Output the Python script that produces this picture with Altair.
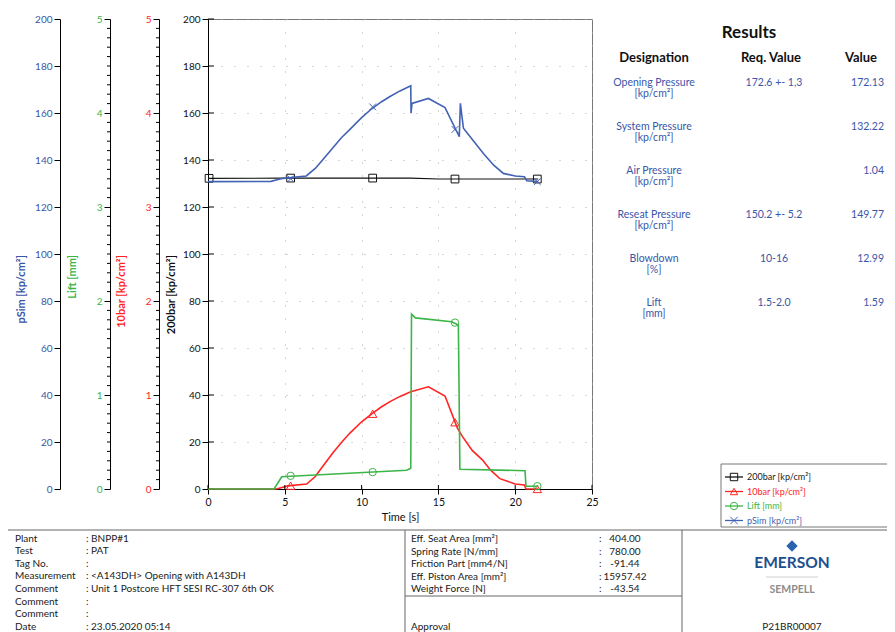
import altair as alt
import pandas as pd

FONT = "Lato"

# ---------------- series data ----------------
psim_t = [0.0, 4.1, 4.5, 4.9, 6.4, 7.0, 7.5, 8.16, 8.7, 9.24, 10.0, 10.66, 11.3, 11.85, 12.5, 13.2, 13.22,
          13.28, 14.35, 15.43, 16.36, 16.43, 16.63, 17.3, 17.93, 18.6, 19.23, 20.0, 20.6, 20.75, 21.5]
psim_v = [130.8, 130.9, 131.6, 132.2, 133.2, 136.5, 140.3, 145.4, 149.6, 153.0, 158.0, 161.8, 164.8,
          167.0, 169.4, 171.6, 159.9, 164.1, 166.2, 162.3, 149.9, 164.1, 153.5, 148.0, 142.8, 137.8,
          134.3, 133.2, 132.9, 131.2, 130.8]

bar200_t = [0.0, 5.0, 10.0, 13.2, 15.0, 20.0, 21.5]
bar200_v = [132.2, 132.3, 132.3, 132.3, 131.9, 131.9, 131.9]

bar10_t = [0.0, 4.45, 5.2, 6.42, 6.97, 7.5, 8.16, 8.8, 9.24, 10.0, 10.66, 11.3, 11.85, 12.5, 13.2, 14.35,
           15.43, 16.23, 16.56, 17.2, 17.86, 18.4, 19.0, 20.0, 20.6, 20.7, 21.5]
bar10_v = [0.0, 0.0, 0.033, 0.0525, 0.13, 0.2475, 0.39, 0.515, 0.595, 0.715, 0.80, 0.875, 0.93, 0.985,
           1.035, 1.0875, 0.99, 0.65, 0.56, 0.41, 0.31, 0.2, 0.11, 0.053, 0.043, 0.0, 0.0]

lift_t = [0.0, 4.3, 4.8, 12.94, 13.2, 13.25, 13.5, 15.86, 16.3, 16.4, 20.64, 20.7, 21.5]
lift_v = [0.0, 0.0, 0.13, 0.20, 0.22, 1.86, 1.82, 1.78, 1.745, 0.21, 0.195, 0.03, 0.03]

# markers
bar200_mark_t = [0.07, 5.38, 10.72, 16.08, 21.44]
bar200_mark_v = [132.2, 132.3, 132.3, 131.9, 131.9]
mark_t = [5.38, 10.72, 16.08, 21.44]
bar10_mark_v = [0.035, 0.80, 0.71, 0.0]
lift_mark_v = [0.14, 0.18, 1.77, 0.03]
psim_mark_v = [132.0, 162.6, 153.0, 130.8]

# axis tick labels
time_ticks = [0, 5, 10, 15, 20, 25]
kp_ticks = [0, 20, 40, 60, 80, 100, 120, 140, 160, 180, 200]
small_ticks = [0, 1, 2, 3, 4, 5]
minor_ticks = [round(i * 0.1, 1) for i in range(51) if i % 10 != 0]

axis_titles = ["pSim [kp/cm²]", "Lift [mm]", "10bar [kp/cm²]", "200bar [kp/cm²]"]

# results table
res_names = ["Opening Pressure", "System Pressure", "Air Pressure", "Reseat Pressure", "Blowdown", "Lift"]
res_units = ["[kp/cm²]", "[kp/cm²]", "[kp/cm²]", "[kp/cm²]", "[%]", "[mm]"]
res_req = ["172.6 +- 1,3", "", "", "150.2 +- 5.2", "10-16", "1.5-2.0"]
res_val = ["172.13", "132.22", "1.04", "149.77", "12.99", "1.59"]
res_headers = ["Designation", "Req. Value", "Value"]

# info tables
info_labels = ["Plant", "Test", "Tag No.", "Measurement", "Comment", "Comment", "Comment", "Date"]
info_values = ["BNPP#1", "PAT", "", "<A143DH> Opening with A143DH",
               "Unit 1 Postcore HFT SESI RC-307 6th OK", "", "", "23.05.2020 05:14"]
mid_labels = ["Eff. Seat Area [mm²]", "Spring Rate [N/mm]", "Friction Part [mm4/N]",
              "Eff. Piston Area [mm²]", "Weight Force [N]"]
mid_values = ["404.00", "780.00", "-91.44", "15957.42", "-43.54"]

legend_names = ["200bar [kp/cm²]", "10bar [kp/cm²]", "Lift [mm]", "pSim [kp/cm²]"]

# ---------------- styling / layout ----------------
BLUE = "#4262b3"
TBLUE = "#3a56a8"
RED = "#ff2424"
GREEN = "#3cb549"
BLACK = "#111111"
CROSS = "M -1 -1 L 1 1 M -1 1 L 1 -1"

W, H = 384, 470
X0, Y0 = 208, 19  # page position of plot origin


def px(v):
    return v - X0


def py(v):
    return v - Y0


x_axis = alt.Axis(values=time_ticks, title="Time [s]", tickSize=5, labelPadding=3, titlePadding=4,
                  grid=True, gridDash=[1, 12], gridColor="#aaaaaa", domainColor="#000", tickColor="#000",
                  labelFont=FONT, titleFont=FONT, labelFontSize=10.5, titleFontSize=11,
                  titleFontWeight="normal", labelColor="#111", titleColor="#111",
                  labelFlush=False, labelOverlap=False, format="d")
X = alt.X("t:Q", scale=alt.Scale(domain=[0, 25], nice=False, zero=False), axis=x_axis)


def yax(offset, lab_color, values, grid=False):
    return alt.Axis(orient="left", offset=offset, values=values, title=None, tickSize=6, labelPadding=2,
                    labelColor=lab_color, labelFont=FONT, labelFontSize=10, domainColor="#000",
                    tickColor="#000", labelOverlap=False, grid=grid, gridColor="#aaaaaa",
                    gridDash=[1, 12], format="d")


def Y(field, domain, axis):
    return alt.Y(f"{field}:Q", scale=alt.Scale(domain=domain, nice=False, zero=False), axis=axis)


def group(ts, vs, mts, mvs, color, domain, axis, shape, msize, lw, extra=()):
    ldf = pd.DataFrame({"t": ts, "v": vs})
    mdf = pd.DataFrame({"t": mts, "v": mvs})
    line = alt.Chart(ldf).mark_line(color=color, strokeWidth=lw).encode(
        x=X, y=Y("v", domain, axis))
    pts = alt.Chart(mdf).mark_point(shape=shape, size=msize, color=color, filled=False,
                                    strokeWidth=1, opacity=1).encode(x=X, y=Y("v", domain, axis))
    return alt.layer(line, pts, *extra)


# black 200bar group (main axis with grid + inner ticks)
ax200 = yax(0, "#111", kp_ticks, grid=True)
inner_y = alt.Chart(pd.DataFrame({"v": kp_ticks})).mark_rule(color="#000", strokeWidth=1).encode(
    y=Y("v", [0, 200], ax200), x=alt.value(0), x2=alt.value(6))
g_black = group(bar200_t, bar200_v, bar200_mark_t, bar200_mark_v, BLACK, [0, 200], ax200,
                "square", 60, 1.1, extra=[inner_y])

# red 10bar
ax10 = yax(49, RED, small_ticks)
minor10 = alt.Chart(pd.DataFrame({"v": minor_ticks})).mark_rule(color="#000", strokeWidth=1).encode(
    y=Y("v", [0, 5], ax10), x=alt.value(-52), x2=alt.value(-49))
g_red = group(bar10_t, bar10_v, mark_t, bar10_mark_v, RED, [0, 5], ax10,
              "triangle-up", 70, 1.6, extra=[minor10])

# green lift
axlift = yax(98, GREEN, small_ticks)
minorlift = alt.Chart(pd.DataFrame({"v": minor_ticks})).mark_rule(color="#000", strokeWidth=1).encode(
    y=Y("v", [0, 5], axlift), x=alt.value(-101), x2=alt.value(-98))
g_green = group(lift_t, lift_v, mark_t, lift_mark_v, GREEN, [0, 5], axlift,
                "circle", 55, 1.6, extra=[minorlift])

# blue pSim
axpsim = yax(148, TBLUE, kp_ticks)
g_blue = group(psim_t, psim_v, mark_t, psim_mark_v, BLUE, [0, 200], axpsim, CROSS, 45, 1.6)

# inner x ticks
inner_x = alt.Chart(pd.DataFrame({"t": time_ticks})).mark_rule(color="#000", strokeWidth=1).encode(
    x=X, y=alt.value(H - 4), y2=alt.value(H))


# ---------------- decorations ----------------
def text_layer(rows, **kw):
    df = pd.DataFrame(rows, columns=["x", "y", "text", "color"])
    df["x"] = df["x"].map(px)
    df["y"] = df["y"].map(py)
    return alt.Chart(df).mark_text(font=FONT, **kw).encode(
        x=alt.X("x:Q", scale=None, axis=None),
        y=alt.Y("y:Q", scale=None, axis=None),
        text="text:N",
        color=alt.Color("color:N", scale=None))


# axis titles (rotated)
title_x = [22, 73, 122, 172]
title_col = [TBLUE, GREEN, RED, BLACK]
t_axis = text_layer([(title_x[i], 255, axis_titles[i], title_col[i]) for i in range(4)],
                    angle=270, align="right", baseline="middle", fontSize=11, fontWeight="bold")

# results
t_res_title = text_layer([(749, 33, "Results", "#111")], align="center", baseline="middle",
                         fontSize=17, fontWeight="bold")
head_x = [654, 771, 861]
t_headers = text_layer([(head_x[i], 58, res_headers[i], "#111") for i in range(3)],
                       align="center", baseline="middle", fontSize=13, fontWeight="bold")
rows_c = []
rows_r = []
for i in range(len(res_names)):
    ry = 82.5 + 44.1 * i
    rows_c.append((654, ry, res_names[i], TBLUE))
    rows_c.append((654, ry + 11, res_units[i], TBLUE))
    if res_req[i]:
        rows_c.append((774, ry, res_req[i], TBLUE))
    rows_r.append((884, ry, res_val[i], TBLUE))
t_res_c = text_layer(rows_c, align="center", baseline="middle", fontSize=10.5)
t_res_r = text_layer(rows_r, align="right", baseline="middle", fontSize=10.5)

# info tables
rows_l = []
for i in range(len(info_labels)):
    ry = 538.5 + 12.65 * i
    rows_l.append((15, ry, info_labels[i], "#1a1a1a"))
    rows_l.append((86, ry, (": " + info_values[i]) if info_values[i] else ":", "#1a1a1a"))
rows_mc = []
for i in range(len(mid_labels)):
    ry = 539 + 12.5 * i
    rows_l.append((411, ry, mid_labels[i], "#1a1a1a"))
    rows_l.append((599, ry, ":", "#1a1a1a"))
    rows_mc.append((625, ry, mid_values[i], "#1a1a1a"))
rows_l.append((411, 627, "Approval", "#1a1a1a"))
t_info = text_layer(rows_l, align="left", baseline="middle", fontSize=10)
rows_mc.append((792, 627, "P21BR00007", "#1a1a1a"))
t_info_c = text_layer(rows_mc, align="center", baseline="middle", fontSize=10)

# logo
t_emerson = text_layer([(792, 563, "EMERSON", "#1d4f8f")], align="center", baseline="middle",
                       fontSize=15.5, fontWeight="bold")
t_sempell = text_layer([(792, 590, "SEMPELL", "#8c8c8c")], align="center", baseline="middle",
                       fontSize=10.5, fontWeight="bold")
logo_df = pd.DataFrame({"x": [px(792)], "y": [py(546)]})
logo = alt.Chart(logo_df).mark_point(shape="diamond", filled=True, size=130, color="#2b63b0",
                                     opacity=1).encode(
    x=alt.X("x:Q", scale=None, axis=None), y=alt.Y("y:Q", scale=None, axis=None))

# table lines
lines = [
    (7, 7, 900, 7, "#555", 2),
    (7, 7, 7, 640, "#555", 2),
    (7, 530, 900, 530, "#666", 1),
    (405, 530, 405, 640, "#666", 1),
    (682, 530, 682, 640, "#666", 1),
    (405, 596, 682, 596, "#666", 1),
    (766, 577, 818, 577, "#d0d0d0", 1),
]
ldf = pd.DataFrame(lines, columns=["x", "y", "x2", "y2", "color", "w"])
for c in ["x", "x2"]:
    ldf[c] = ldf[c].map(px)
for c in ["y", "y2"]:
    ldf[c] = ldf[c].map(py)
rules = alt.Chart(ldf).mark_rule().encode(
    x=alt.X("x:Q", scale=None, axis=None), x2="x2:Q",
    y=alt.Y("y:Q", scale=None, axis=None), y2="y2:Q",
    color=alt.Color("color:N", scale=None),
    strokeWidth=alt.StrokeWidth("w:Q", scale=None))

# legend
legend_cols = [BLACK, RED, GREEN, BLUE]
legend_shapes = ["square", "triangle-up", "circle", CROSS]
leg_y = [477, 491.5, 506, 520.5]
box_df = pd.DataFrame({"x": [px(721)], "x2": [px(906)], "y": [py(464)], "y2": [py(527)]})
leg_box = alt.Chart(box_df).mark_rect(fill="white", stroke="#777", strokeWidth=1).encode(
    x=alt.X("x:Q", scale=None, axis=None), x2="x2:Q",
    y=alt.Y("y:Q", scale=None, axis=None), y2="y2:Q")
lsym = pd.DataFrame({"x": [px(725)] * 4, "x2": [px(743)] * 4, "xm": [px(734)] * 4,
                     "y": [py(v) for v in leg_y], "color": legend_cols, "shape": legend_shapes})
leg_lines = alt.Chart(lsym).mark_rule(strokeWidth=1.3).encode(
    x=alt.X("x:Q", scale=None, axis=None), x2="x2:Q",
    y=alt.Y("y:Q", scale=None, axis=None),
    color=alt.Color("color:N", scale=None))
leg_pts = alt.Chart(lsym).mark_point(filled=False, size=55, strokeWidth=1, opacity=1).encode(
    x=alt.X("xm:Q", scale=None, axis=None),
    y=alt.Y("y:Q", scale=None, axis=None),
    color=alt.Color("color:N", scale=None),
    shape=alt.Shape("shape:N", scale=None))
t_leg = text_layer([(747, leg_y[i], legend_names[i], legend_cols[i] if i else "#222") for i in range(4)],
                   align="left", baseline="middle", fontSize=9)

chart = alt.layer(
    g_black, g_red, g_green, g_blue, inner_x,
    t_axis, t_res_title, t_headers, t_res_c, t_res_r, t_info, t_info_c,
    t_emerson, t_sempell, logo, rules, leg_box, leg_lines, leg_pts, t_leg
).resolve_scale(y="independent").properties(
    width=W, height=H,
    autosize=alt.AutoSizeParams(type="none"),
    padding={"left": 200, "top": 11, "right": 295, "bottom": 143},
    background="white",
).configure_view(stroke="#777", strokeWidth=1)

chart.save("out.html", embed_options={"renderer": "svg", "actions": False})
